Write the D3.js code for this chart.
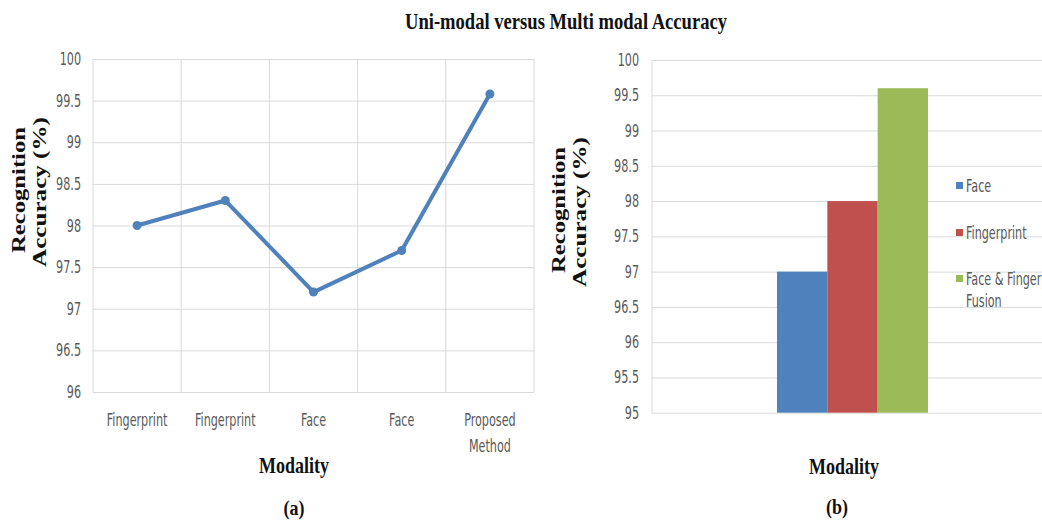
<!DOCTYPE html>
<html>
<head>
<meta charset="utf-8">
<script src="https://cdn.jsdelivr.net/npm/d3@7"></script>
<style>
  html, body { margin: 0; padding: 0; background: #fff; }
  svg { display: block; }
  .tick-text { font-family: "Liberation Sans Narrow", "DejaVu Sans Condensed", "Arial Narrow", sans-serif; font-size: 15px; fill: #595959; }
  .serif-b { font-family: "Liberation Serif", "Times New Roman", serif; font-weight: bold; fill: #111; }
</style>
</head>
<body>
<script>
// ---------- Data ----------
const titleText = "Uni-modal versus Multi modal Accuracy";
// Panel (a): line chart
const lineCategories = ["Fingerprint", "Fingerprint", "Face", "Face", "Proposed Method"];
const lineValues = [98.0, 98.3, 97.2, 97.7, 99.58];
const lineTicks = [96, 96.5, 97, 97.5, 98, 98.5, 99, 99.5, 100];
// Panel (b): grouped bar chart
const barGroups = [""];
const barSeries = ["Face", "Fingerprint", "Face & Fingerprint Fusion"];
const barLegendLines = [["Face"], ["Fingerprint"], ["Face & Fingerprint", "Fusion"]];
const barValues = [97.0, 98.0, 99.6];
const barTicks = [95, 95.5, 96, 96.5, 97, 97.5, 98, 98.5, 99, 99.5, 100];
const barColors = ["#4F81BD", "#C0504D", "#9BBB59"];

const W = 1042, H = 520;
const svg = d3.select("body").append("svg").attr("width", W).attr("height", H);

const gridColor = "#d9d9d9";
const SX = 0.83, SY = 1.12; // narrow, slightly tall text as in the reference

function narrowText(parent, x, y, str, anchor, size) {
  return parent.append("text").attr("class", "tick-text")
    .attr("text-anchor", anchor)
    .attr("font-size", size || 15.5)
    .attr("transform", `translate(${x},${y}) scale(${SX},${SY})`)
    .text(str);
}
function serifText(x, y, str, size, sy, len) {
  const t = svg.append("text").attr("class", "serif-b").attr("font-size", size)
    .attr("text-anchor", "middle")
    .attr("transform", `translate(${x},${y}) scale(1,${sy})`).text(str);
  if (len) t.attr("textLength", len).attr("lengthAdjust", "spacingAndGlyphs");
  return t;
}
function rotLabel(x, y, str, len) {
  svg.append("text").attr("class", "serif-b").attr("font-size", 18)
    .attr("transform", `translate(${x},${y}) rotate(-90)`).attr("text-anchor", "middle")
    .attr("textLength", len).attr("lengthAdjust", "spacingAndGlyphs").text(str);
}

// Title
serifText(566, 29, titleText, 19, 1.2, 322);

// ---------- Panel (a) ----------
{
  const L = 93, R = 534, T = 59, B = 392;
  const x = d3.scaleBand().domain(d3.range(lineCategories.length)).range([L, R]).padding(0);
  const y = d3.scaleLinear().domain([96, 100]).range([B, T]);
  const g = svg.append("g");

  g.append("g").attr("transform", `translate(${L},0)`)
    .call(d3.axisLeft(y).tickValues(lineTicks).tickSize(-(R - L)).tickFormat(""))
    .call(s => s.select(".domain").remove())
    .call(s => s.selectAll("line").attr("stroke", gridColor));
  const bounds = d3.range(lineCategories.length + 1).map(i => i === lineCategories.length ? R : x(i));
  g.append("g").selectAll("line").data(bounds).join("line")
    .attr("x1", d => d).attr("x2", d => d).attr("y1", T).attr("y2", B)
    .attr("stroke", gridColor);

  lineTicks.forEach(v => narrowText(g, L - 12, y(v) + 6, d3.format("")(v), "end"));

  lineCategories.forEach((c, i) => {
    const cx = x(i) + x.bandwidth() / 2;
    const parts = c === "Proposed Method" ? ["Proposed", "Method"] : [c];
    parts.forEach((p, j) => narrowText(g, cx, B + 34 + j * 26, p, "middle"));
  });

  const line = d3.line().x((d, i) => x(i) + x.bandwidth() / 2).y(d => y(d));
  g.append("path").datum(lineValues).attr("d", line)
    .attr("fill", "none").attr("stroke", "#4F81BD").attr("stroke-width", 4).attr("stroke-linejoin", "round");
  g.append("g").selectAll("circle").data(lineValues).join("circle")
    .attr("cx", (d, i) => x(i) + x.bandwidth() / 2).attr("cy", d => y(d)).attr("r", 4.5)
    .attr("fill", "#4F81BD");

  rotLabel(25, 190, "Recognition", 126);
  rotLabel(46, 192, "Accuracy (%)", 150);
  serifText(294, 473, "Modality", 18, 1.25);
  serifText(294, 515, "(a)", 18, 1.2);
}

// ---------- Panel (b) ----------
{
  const L = 652, R = 1053, T = 60, B = 412.7;
  const x0 = d3.scaleBand().domain(barGroups).range([L, R]).paddingInner(0).paddingOuter(0.828);
  const x1 = d3.scaleBand().domain(barSeries).range([0, x0.bandwidth()]).padding(0);
  const y = d3.scaleLinear().domain([95, 100]).range([B, T]);
  const g = svg.append("g");

  g.append("g").attr("transform", `translate(${L},0)`)
    .call(d3.axisLeft(y).tickValues(barTicks).tickSize(-(R - L)).tickFormat(""))
    .call(s => s.select(".domain").remove())
    .call(s => s.selectAll("line").attr("stroke", gridColor));
  g.append("line").attr("x1", L).attr("x2", L).attr("y1", T).attr("y2", B).attr("stroke", gridColor);

  barTicks.forEach(v => narrowText(g, L - 13, y(v) + 6, d3.format("")(v), "end"));

  g.append("g").selectAll("rect").data(barSeries.map((s, i) => ({ s, v: barValues[i], c: barColors[i] })))
    .join("rect")
    .attr("x", d => x0(barGroups[0]) + x1(d.s)).attr("width", x1.bandwidth())
    .attr("y", d => y(d.v)).attr("height", d => B - y(d.v))
    .attr("fill", d => d.c);

  const legY = [186, 233, 279];
  const leg = svg.append("g");
  barSeries.forEach((s, i) => {
    leg.append("rect").attr("x", 956).attr("y", legY[i] - 4).attr("width", 7).attr("height", 7).attr("fill", barColors[i]);
    barLegendLines[i].forEach((p, j) => narrowText(leg, 966, legY[i] + 6 + j * 22, p, "start"));
  });

  rotLabel(565, 210, "Recognition", 126);
  rotLabel(586, 212, "Accuracy (%)", 150);
  serifText(844, 474, "Modality", 18, 1.25);
  serifText(837, 514, "(b)", 18, 1.2);
}
</script>
</body>
</html>
